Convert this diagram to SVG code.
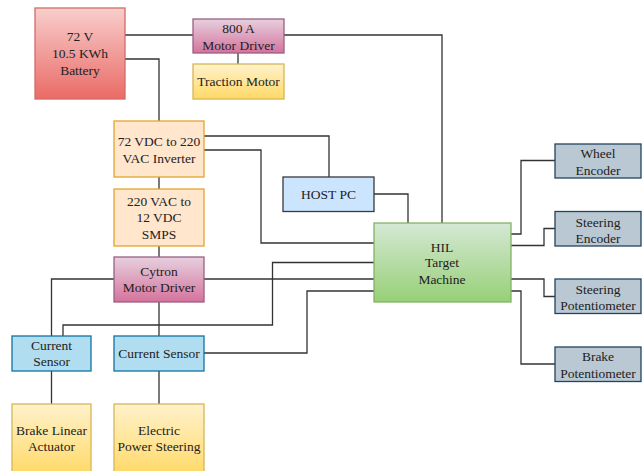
<svg xmlns="http://www.w3.org/2000/svg" width="644" height="471" viewBox="0 0 644 471">
<defs>
<linearGradient id="gRed" x1="0" y1="0" x2="0" y2="1"><stop offset="0" stop-color="#f8cecc"/><stop offset="1" stop-color="#ea6b66"/></linearGradient>
<linearGradient id="gPurple" x1="0" y1="0" x2="0" y2="1"><stop offset="0" stop-color="#e6d0de"/><stop offset="1" stop-color="#d5739d"/></linearGradient>
<linearGradient id="gYellow" x1="0" y1="0" x2="0" y2="1"><stop offset="0" stop-color="#fff2cc"/><stop offset="1" stop-color="#ffd966"/></linearGradient>
<linearGradient id="gGreen" x1="0" y1="0" x2="0" y2="1"><stop offset="0" stop-color="#d5e8d4"/><stop offset="1" stop-color="#97d077"/></linearGradient>
</defs>
<style>
text{font-family:"Liberation Serif","Times New Roman",serif;font-size:13.5px;fill:#222;text-anchor:middle}
.red{fill:url(#gRed);stroke:#d46a66;stroke-width:1.3}
.purple{fill:url(#gPurple);stroke:#996185;stroke-width:1.3}
.yellow{fill:url(#gYellow);stroke:#d6b656;stroke-width:1.3}
.orange{fill:#ffe6cc;stroke:#e0a530;stroke-width:1.3}
.blue{fill:#b1ddf0;stroke:#10739e;stroke-width:1.3}
.host{fill:#cce5ff;stroke:#36393d;stroke-width:1.3}
.green{fill:url(#gGreen);stroke:#82b366;stroke-width:1.3}
.grey{fill:#bac8d3;stroke:#23445d;stroke-width:1.3}
#connectors path{fill:none;stroke:#333;stroke-width:1.3}
</style>
<g id="connectors">
<path d="M125,35 H193"/>
<path d="M284,35 H442 V223"/>
<path d="M238,53 V64"/>
<path d="M125,59 H159 V121"/>
<path d="M204,136 H329 V177"/>
<path d="M204,150 H261 V243 H374"/>
<path d="M374,194 H408 V223"/>
<path d="M159,177 V189"/>
<path d="M159,246 V257"/>
<path d="M114,279 H51.5 V336"/>
<path d="M204,279 H374"/>
<path d="M374,262.5 H272.5 V325 H63 V336"/>
<path d="M374,291 H307 V353 H204"/>
<path d="M159,302 V336"/>
<path d="M51.5,371 V404"/>
<path d="M159,371 V404"/>
<path d="M511,234 H521 V160.5 H555"/>
<path d="M511,245.5 H544 V228.5 H555"/>
<path d="M511,279 H544 V296.5 H555"/>
<path d="M511,291 H521 V364 H555"/>
</g>
<g id="battery"><rect class="red" x="35" y="8" width="90" height="91"/><text x="80" y="41">72 V</text><text x="80" y="58">10.5 KWh</text><text x="80" y="74.5">Battery</text></g>
<g id="motor-driver-800a"><rect class="purple" x="193" y="19" width="91" height="34"/><text x="238.5" y="33">800 A</text><text x="238.5" y="49.5">Motor Driver</text></g>
<g id="traction-motor"><rect class="yellow" x="193" y="64" width="91" height="35"/><text x="238.5" y="86">Traction Motor</text></g>
<g id="inverter"><rect class="orange" x="114" y="121" width="90" height="56"/><text x="159" y="146">72 VDC to 220</text><text x="159" y="163">VAC Inverter</text></g>
<g id="smps"><rect class="orange" x="114" y="189" width="90" height="57"/><text x="159" y="206">220 VAC to</text><text x="159" y="222">12 VDC</text><text x="159" y="238.5">SMPS</text></g>
<g id="cytron"><rect class="purple" x="114" y="257" width="90" height="45"/><text x="159" y="275.5">Cytron</text><text x="159" y="292">Motor Driver</text></g>
<g id="current-sensor-1"><rect class="blue" x="12" y="336" width="79" height="35"/><text x="51.5" y="349.5">Current</text><text x="51.5" y="366">Sensor</text></g>
<g id="current-sensor-2"><rect class="blue" x="114" y="336" width="90" height="35"/><text x="159" y="357.5">Current Sensor</text></g>
<g id="brake-actuator"><rect class="yellow" x="12" y="404" width="79" height="72"/><text x="51.5" y="434.5">Brake Linear</text><text x="51.5" y="451">Actuator</text></g>
<g id="eps"><rect class="yellow" x="114" y="404" width="90" height="72"/><text x="159" y="434.5">Electric</text><text x="159" y="451">Power Steering</text></g>
<g id="host-pc"><rect class="host" x="283" y="177" width="91" height="34.5"/><text x="328.5" y="198.5">HOST PC</text></g>
<g id="hil"><rect class="green" x="374" y="223" width="137" height="79"/><text x="442" y="251.5">HIL</text><text x="442" y="267">Target</text><text x="442" y="283.5">Machine</text></g>
<g id="wheel-encoder"><rect class="grey" x="555" y="144" width="86" height="34"/><text x="598" y="158">Wheel</text><text x="598" y="174.5">Encoder</text></g>
<g id="steering-encoder"><rect class="grey" x="555" y="211.5" width="86" height="34.5"/><text x="598" y="226.8">Steering</text><text x="598" y="243">Encoder</text></g>
<g id="steering-pot"><rect class="grey" x="555" y="279" width="86" height="34.5"/><text x="598" y="293.5">Steering</text><text x="598" y="309.5">Potentiometer</text></g>
<g id="brake-pot"><rect class="grey" x="555" y="347" width="86" height="34.5"/><text x="598" y="361">Brake</text><text x="598" y="378">Potentiometer</text></g>
</svg>
